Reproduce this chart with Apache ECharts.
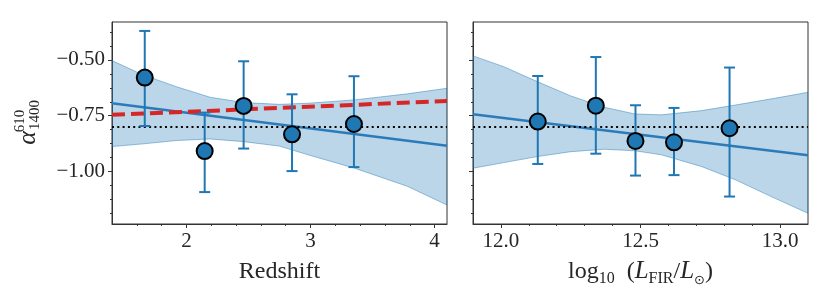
<!DOCTYPE html>
<html><head><meta charset="utf-8">
<script src="https://cdn.jsdelivr.net/npm/echarts@6/dist/echarts.min.js"></script>
<style>html,body{margin:0;padding:0;background:#fff}#c{width:830px;height:302px}</style>
</head><body><div id="c"></div><script>
// ---- data: left panel (Redshift) ----
const zX = [1.664, 2.147, 2.461, 2.851, 3.350];
const zY = [-0.579, -0.908, -0.706, -0.833, -0.787];
const zErrHi = [-0.370, -0.736, -0.506, -0.654, -0.573];
const zErrLo = [-0.796, -1.092, -0.897, -0.998, -0.980];
const zBandX = [1.4, 1.65, 1.92, 2.19, 2.46, 2.75, 2.98, 3.355, 3.78, 4.1];
const zBandUp = [-0.503, -0.567, -0.620, -0.667, -0.691, -0.699, -0.694, -0.679, -0.652, -0.627];
const zBandLo = [-0.888, -0.876, -0.861, -0.854, -0.866, -0.886, -0.925, -0.985, -1.066, -1.150];
const zFitX = [1.4, 4.1];
const zFitY = [-0.694, -0.884];
const zRedX = [1.4, 4.1];
const zRedY = [-0.746, -0.684];
// ---- data: right panel (log L_FIR) ----
const lX = [12.132, 12.340, 12.482, 12.620, 12.819];
const lY = [-0.776, -0.705, -0.863, -0.869, -0.806];
const lErrHi = [-0.572, -0.487, -0.703, -0.715, -0.534];
const lErrLo = [-0.966, -0.920, -1.018, -1.016, -1.112];
const lBandX = [11.9, 12.01, 12.13, 12.25, 12.37, 12.48, 12.575, 12.72, 12.84, 12.98, 13.1];
const lBandUp = [-0.482, -0.530, -0.597, -0.661, -0.712, -0.742, -0.746, -0.727, -0.702, -0.672, -0.645];
const lBandLo = [-0.985, -0.960, -0.933, -0.911, -0.900, -0.907, -0.925, -0.978, -1.037, -1.119, -1.187];
const lFitX = [11.9, 13.1];
const lFitY = [-0.743, -0.927];
const refY = -0.80;
// ---- axes / ticks ----
const zXRange = [1.4, 4.1];
const lXRange = [11.9, 13.1];
const yRange = [-1.235, -0.33];
const zXTicks = [2, 3, 4];
const zXTickLabels = ['2', '3', '4'];
const zXMinor = [1.6, 1.8, 2.2, 2.4, 2.6, 2.8, 3.2, 3.4, 3.6, 3.8];
const lXTicks = [12.0, 12.5, 13.0];
const lXTickLabels = ['12.0', '12.5', '13.0'];
const lXMinor = [12.1, 12.2, 12.3, 12.4, 12.6, 12.7, 12.8, 12.9];
const yTicks = [-1.0, -0.75, -0.5];
const yTickLabels = ['\u22121.00', '\u22120.75', '\u22120.50'];
const yMinor = [-1.1875, -1.125, -1.0625, -0.9375, -0.875, -0.8125, -0.6875, -0.625, -0.5625, -0.4375, -0.375];

const SERIF = "'Liberation Serif', 'DejaVu Serif', serif";
const BLUE = '#1f77b4';
const SPINE = '#333';
const TXT = '#262626';

function lbl(vals, labels) {
  return function (v) {
    for (let i = 0; i < vals.length; i++) if (Math.abs(vals[i] - v) < 1e-6) return labels[i];
    return '';
  };
}
function majorX(grid, range, ticks, labels, name) {
  return {
    type: 'value', gridIndex: grid, min: range[0], max: range[1], position: 'bottom',
    axisLine: { show: true, onZero: false, lineStyle: { color: SPINE, width: 1 } },
    axisTick: { show: true, customValues: ticks, length: 4, lineStyle: { color: SPINE, width: 1 } },
    axisLabel: { show: true, customValues: ticks, formatter: lbl(ticks, labels), margin: 7,
      fontFamily: SERIF, fontSize: 21, color: TXT },
    splitLine: { show: false },
    name: name, nameLocation: 'middle', nameGap: 23,
    nameTextStyle: { fontFamily: SERIF, fontSize: 24, color: TXT, lineHeight: 30,
      rich: {
        n: { fontFamily: SERIF, fontSize: 24, color: TXT, lineHeight: 30 },
        i: { fontFamily: SERIF, fontSize: 25, fontStyle: 'italic', color: TXT, lineHeight: 30 },
        s: { fontFamily: SERIF, fontSize: 16, color: TXT, lineHeight: 12, verticalAlign: 'bottom' },
        o: { fontFamily: "'DejaVu Sans', sans-serif", fontSize: 13, color: TXT, lineHeight: 12, verticalAlign: 'bottom' }
      } }
  };
}
function minorX(grid, range, minor) {
  return {
    type: 'value', gridIndex: grid, min: range[0], max: range[1], position: 'bottom',
    axisLine: { show: false },
    axisTick: { show: true, customValues: minor, length: 2, lineStyle: { color: SPINE, width: 1 } },
    axisLabel: { show: false }, splitLine: { show: false }
  };
}
function majorY(grid, showLabels) {
  return {
    type: 'value', gridIndex: grid, min: yRange[0], max: yRange[1], position: 'left',
    axisLine: { show: true, onZero: false, lineStyle: { color: SPINE, width: 1 } },
    axisTick: { show: true, customValues: yTicks, length: 4, lineStyle: { color: SPINE, width: 1 } },
    axisLabel: { show: showLabels, customValues: yTicks, formatter: lbl(yTicks, yTickLabels), margin: 7,
      fontFamily: SERIF, fontSize: 21, color: TXT },
    splitLine: { show: false }
  };
}
function minorY(grid) {
  return {
    type: 'value', gridIndex: grid, min: yRange[0], max: yRange[1], position: 'left',
    axisLine: { show: false },
    axisTick: { show: true, customValues: yMinor, length: 2, lineStyle: { color: SPINE, width: 1 } },
    axisLabel: { show: false }, splitLine: { show: false }
  };
}
function pairs(xs, ys) { return xs.map((x, i) => [x, ys[i]]); }
function bandSeries(ax, bx, up, lo) {
  return {
    type: 'custom', xAxisIndex: ax, yAxisIndex: ax, clip: true, z: 1, silent: true,
    data: [[bx[0], up[0]]],
    renderItem: function (params, api) {
      const pts = [];
      for (let i = 0; i < bx.length; i++) pts.push(api.coord([bx[i], up[i]]));
      for (let i = bx.length - 1; i >= 0; i--) pts.push(api.coord([bx[i], lo[i]]));
      return { type: 'polygon', shape: { points: pts },
        style: { fill: 'rgba(31,119,180,0.3)', stroke: 'rgba(31,119,180,0.45)', lineWidth: 1 } };
    }
  };
}
function errSeries(ax, xs, lo, hi) {
  return {
    type: 'custom', xAxisIndex: ax, yAxisIndex: ax, z: 4, silent: true,
    encode: { x: 0, y: [1, 2] },
    data: xs.map((x, i) => [x, lo[i], hi[i]]),
    renderItem: function (params, api) {
      const x = api.value(0);
      const a = api.coord([x, api.value(1)]);
      const b = api.coord([x, api.value(2)]);
      const c = 5.5;
      const st = { stroke: BLUE, lineWidth: 2 };
      return { type: 'group', children: [
        { type: 'line', shape: { x1: a[0], y1: a[1], x2: b[0], y2: b[1] }, style: st },
        { type: 'line', shape: { x1: a[0] - c, y1: a[1], x2: a[0] + c, y2: a[1] }, style: st },
        { type: 'line', shape: { x1: b[0] - c, y1: b[1], x2: b[0] + c, y2: b[1] }, style: st }
      ] };
    }
  };
}
function lineSeries(ax, xs, ys, color, width, type, z) {
  return { type: 'line', xAxisIndex: ax, yAxisIndex: ax, data: pairs(xs, ys), showSymbol: false,
    symbol: 'none', z: z, silent: true, lineStyle: { color: color, width: width, type: type, cap: 'butt' } };
}
function scatterSeries(ax, xs, ys) {
  return { type: 'scatter', xAxisIndex: ax, yAxisIndex: ax, data: pairs(xs, ys), symbol: 'circle',
    symbolSize: 16, z: 5, silent: true,
    itemStyle: { color: BLUE, borderColor: '#000', borderWidth: 2, opacity: 1 } };
}

const chart = echarts.init(document.getElementById('c'), null, { renderer: 'canvas' });
chart.setOption({
  animation: false,
  backgroundColor: '#fff',
  grid: [
    { left: 112, top: 22, width: 335, height: 202, show: true, borderColor: SPINE, borderWidth: 1, backgroundColor: 'transparent' },
    { left: 473, top: 22, width: 335, height: 202, show: true, borderColor: SPINE, borderWidth: 1, backgroundColor: 'transparent' }
  ],
  xAxis: [
    majorX(0, zXRange, zXTicks, zXTickLabels, '{n|Redshift}'),
    majorX(1, lXRange, lXTicks, lXTickLabels, '{n|log}{s|10}{n|  (}{i|L}{s|FIR}{n|/}{i|L}{o|\u2299}{n|)}'),
    minorX(0, zXRange, zXMinor),
    minorX(1, lXRange, lXMinor)
  ],
  yAxis: [majorY(0, true), majorY(1, false), minorY(0), minorY(1)],
  series: [
    bandSeries(0, zBandX, zBandUp, zBandLo),
    bandSeries(1, lBandX, lBandUp, lBandLo),
    lineSeries(0, zFitX, zFitY, '#2b7bba', 2.5, 'solid', 2),
    lineSeries(1, lFitX, lFitY, '#2b7bba', 2.5, 'solid', 2),
    lineSeries(0, zXRange, [refY, refY], '#000', 2, [2, 3.3], 2),
    lineSeries(1, lXRange, [refY, refY], '#000', 2, [2, 3.3], 2),
    lineSeries(0, zRedX, zRedY, '#d62728', 4, [13, 6], 3),
    errSeries(0, zX, zErrLo, zErrHi),
    errSeries(1, lX, lErrLo, lErrHi),
    scatterSeries(0, zX, zY),
    scatterSeries(1, lX, lY)
  ],
  graphic: [
    { type: 'text', x: 28, y: 138, rotation: Math.PI / 2, z: 10,
      style: { text: '\u03b1', font: "italic 26px 'Liberation Serif', serif", fill: TXT, align: 'center', verticalAlign: 'middle' } },
    { type: 'text', x: 20, y: 121, rotation: Math.PI / 2, z: 10,
      style: { text: '610', font: "15px 'Liberation Serif', serif", fill: TXT, align: 'center', verticalAlign: 'middle' } },
    { type: 'text', x: 35, y: 115, rotation: Math.PI / 2, z: 10,
      style: { text: '1400', font: "15px 'Liberation Serif', serif", fill: TXT, align: 'center', verticalAlign: 'middle' } }
  ]
});
</script></body></html>
